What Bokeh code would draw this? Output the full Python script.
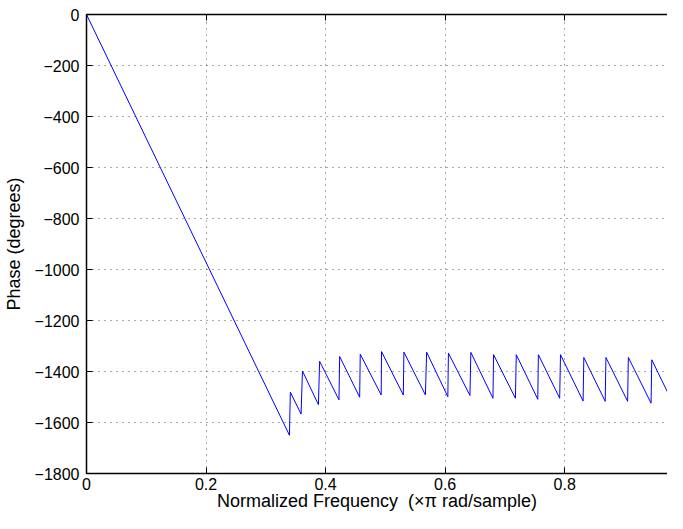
from bokeh.plotting import figure
from bokeh.models import FixedTicker, LinearAxis, Range1d, CustomJSTickFormatter
from bokeh.embed import file_html
from bokeh.resources import INLINE

# Unwrapped phase response (vertices)
freq = [0.0, 0.3395, 0.341, 0.359, 0.3613, 0.388, 0.390, 0.4224, 0.4235,
        0.457, 0.458, 0.493, 0.4936, 0.530, 0.531, 0.567, 0.569, 0.6045,
        0.6055, 0.6415, 0.643, 0.680, 0.681, 0.7176, 0.719, 0.755, 0.756,
        0.7916, 0.793, 0.8308, 0.832, 0.8678, 0.869, 0.9053, 0.9065, 0.9445,
        0.9457, 0.981, 0.982, 1.0]
phase = [0, -1650, -1481, -1567, -1398, -1530, -1360, -1511, -1341,
         -1501, -1332, -1492, -1322, -1492, -1324, -1492, -1324, -1499,
         -1328, -1494, -1325, -1505, -1334, -1505, -1334, -1509, -1334,
         -1505, -1334, -1516, -1345, -1517, -1345, -1517, -1345, -1524,
         -1354, -1524, -1354, -1440]

x_ticks = [0, 0.2, 0.4, 0.6, 0.8, 1.0]
x_tick_labels = ["0", "0.2", "0.4", "0.6", "0.8", "1"]
y_ticks = [0, -200, -400, -600, -800, -1000, -1200, -1400, -1600, -1800]
y_tick_labels = ["0", "\u2212200", "\u2212400", "\u2212600", "\u2212800",
                 "\u22121000", "\u22121200", "\u22121400", "\u22121600", "\u22121800"]

FONT = "Liberation Sans"

p = figure(width=667, height=513, output_backend="svg", toolbar_location=None,
           x_range=Range1d(0, 0.972), y_range=Range1d(-1800, 0),
           min_border_left=81, min_border_top=14, min_border_right=0, min_border_bottom=0,
           x_axis_label="Normalized Frequency \u00a0(\u00d7\u03c0 rad/sample)",
           y_axis_label="Phase (degrees)")
p.outline_line_color = None
p.background_fill_color = "white"
p.border_fill_color = "white"

p.line(x=freq, y=phase, line_color="#0000FF", line_width=1)

code = "const i = tv.indexOf(tick); return i >= 0 ? tl[i] : String(tick);"
for ax, ticks, labels in ((p.xaxis[0], x_ticks, x_tick_labels), (p.yaxis[0], y_ticks, y_tick_labels)):
    ax.ticker = FixedTicker(ticks=ticks)
    ax.formatter = CustomJSTickFormatter(args=dict(tv=ticks, tl=labels), code=code)
    ax.major_tick_in = 6
    ax.major_tick_out = 0
    ax.minor_tick_line_color = None
    ax.axis_line_width = 1.5
    ax.axis_line_color = "black"
    ax.major_tick_line_color = "black"
    ax.major_label_text_font = FONT
    ax.major_label_text_font_size = "16px"
    ax.major_label_text_color = "black"
    ax.axis_label_text_font = FONT
    ax.axis_label_text_font_size = "18px"
    ax.axis_label_text_font_style = "normal"
    ax.axis_label_text_color = "black"

p.xaxis.major_label_standoff = 4
p.xaxis.axis_label_standoff = -2
p.yaxis.major_label_standoff = 7
p.yaxis.axis_label_standoff = 8

top = LinearAxis(ticker=FixedTicker(ticks=x_ticks),
                 formatter=CustomJSTickFormatter(code="return '';"),
                 major_label_text_font_size="10px",
                 major_tick_in=6, major_tick_out=0, minor_tick_line_color=None,
                 axis_line_width=1.5, major_label_standoff=0)
p.add_layout(top, "above")

for g in (p.xgrid[0], p.ygrid[0]):
    g.grid_line_color = "#555555"
    g.grid_line_dash = "1 5"
    g.grid_line_width = 1

open("out.html", "w").write(file_html(p, INLINE))
